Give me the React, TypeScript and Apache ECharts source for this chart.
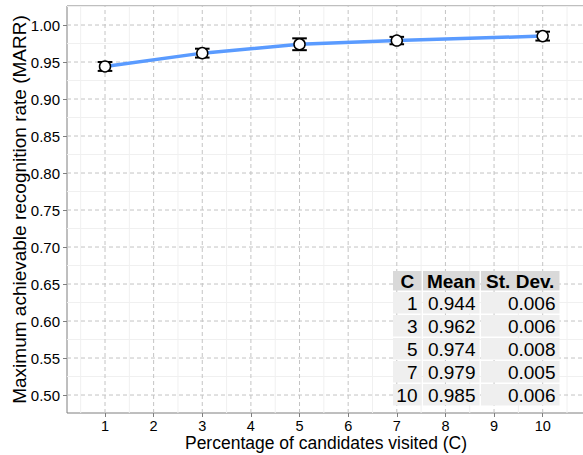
import React, { useEffect, useRef } from "react";
import * as echarts from "echarts";

const cValues = [1, 3, 5, 7, 10];
const meanValues = [0.944, 0.962, 0.974, 0.979, 0.985];
const sdValues = [0.006, 0.006, 0.008, 0.005, 0.006];
const tableHeader = ["C", "Mean", "St. Dev."];
const tableC = ["1", "3", "5", "7", "10"];
const tableMean = ["0.944", "0.962", "0.974", "0.979", "0.985"];
const tableSd = ["0.006", "0.006", "0.008", "0.005", "0.006"];
const xTicks = [1, 2, 3, 4, 5, 6, 7, 8, 9, 10];
const xMinor = [0.5, 1.5, 2.5, 3.5, 4.5, 5.5, 6.5, 7.5, 8.5, 9.5, 10.5];
const yTicks = [0.5, 0.55, 0.6, 0.65, 0.7, 0.75, 0.8, 0.85, 0.9, 0.95, 1.0];
const yMinor = [0.525, 0.575, 0.625, 0.675, 0.725, 0.775, 0.825, 0.875, 0.925, 0.975, 1.025];

const FONT = "'Liberation Sans', Arial, Helvetica, sans-serif";
const X_MIN = 0.2186;
const X_MAX = 10.87;
const Y_MIN = 0.4757;
const Y_MAX = 1.0257;

export default function App() {
  const ref = useRef<HTMLDivElement>(null);
  useEffect(() => {
    if (!ref.current) return;
    const chart = echarts.init(ref.current, undefined, { renderer: "svg" });

    const gridLineSeries = (
      values: number[],
      vertical: boolean,
      style: any,
      z: number
    ) => ({
      type: "custom",
      silent: true,
      z,
      data: values.map((v) => (vertical ? [v, 0.75] : [5, v])),
      renderItem: (params: any, api: any) => {
        const v = vertical ? api.value(0) : api.value(1);
        const p1 = vertical ? api.coord([v, Y_MIN]) : api.coord([X_MIN, v]);
        const p2 = vertical ? api.coord([v, Y_MAX]) : api.coord([X_MAX, v]);
        return {
          type: "line",
          shape: { x1: p1[0], y1: p1[1], x2: p2[0], y2: p2[1] },
          style: style,
        };
      },
    });

    const minorStyle = { stroke: "#f0f0f0", lineWidth: 1 };
    const majorStyle = { stroke: "#c4c4c4", lineWidth: 1, lineDash: [4, 3] };

    // table graphics
    const tblLeft = 393;
    const colW = [30, 58, 80];
    const headerTop = 271;
    const headerH = 21;
    const rowH = 23;
    const gap = 1.5;
    const graphics: any[] = [];
    let cx = tblLeft;
    colW.forEach((w, ci) => {
      graphics.push({
        type: "rect",
        shape: { x: cx, y: headerTop, width: w - gap, height: headerH - gap },
        style: { fill: "#d9d9d9" },
        z: 100,
      });
      graphics.push({
        type: "text",
        x: cx + (w - gap) / 2,
        y: headerTop + (headerH - gap) / 2 + 1,
        style: {
          text: tableHeader[ci],
          font: `bold 19px ${FONT}`,
          fill: "#000",
          align: "center",
          verticalAlign: "middle",
        },
        z: 101,
      });
      const colData = ci === 0 ? tableC : ci === 1 ? tableMean : tableSd;
      colData.forEach((txt, ri) => {
        const top = headerTop + headerH + ri * rowH;
        graphics.push({
          type: "rect",
          shape: { x: cx, y: top, width: w - gap, height: rowH - gap },
          style: { fill: "#efefef" },
          z: 100,
        });
        graphics.push({
          type: "text",
          x: cx + w - gap - 4,
          y: top + (rowH - gap) / 2 + 1,
          style: {
            text: txt,
            font: `19px ${FONT}`,
            fill: "#000",
            align: "right",
            verticalAlign: "middle",
          },
          z: 101,
        });
      });
      cx += w;
    });

    chart.setOption({
      animation: false,
      textStyle: { fontFamily: FONT },
      grid: {
        left: 67,
        right: -2,
        top: 6,
        bottom: 42,
        containLabel: false,
        outerBoundsMode: "none",
        show: true,
        borderColor: "#7f7f7f",
        borderWidth: 1,
        backgroundColor: "#ffffff",
      },
      xAxis: {
        type: "value",
        min: X_MIN,
        max: X_MAX,
        name: "Percentage of candidates visited (C)",
        nameLocation: "middle",
        nameGap: 21,
        nameMoveOverlap: false,
        nameTextStyle: { fontSize: 17.5, color: "#000", fontFamily: FONT },
        axisLine: { show: false },
        splitLine: { show: false },
        axisTick: {
          show: true,
          length: 4,
          customValues: xTicks,
          lineStyle: { color: "#7f7f7f" },
        },
        axisLabel: {
          customValues: xTicks,
          fontSize: 14.5,
          color: "#000",
          margin: 5,
          fontFamily: FONT,
        },
      },
      yAxis: {
        type: "value",
        min: Y_MIN,
        max: Y_MAX,
        name: "Maximum achievable recognition rate (MARR)",
        nameLocation: "middle",
        nameGap: 38,
        nameMoveOverlap: false,
        nameTextStyle: { fontSize: 19, color: "#000", fontFamily: FONT },
        axisLine: { show: false },
        splitLine: { show: false },
        axisTick: {
          show: true,
          length: 4,
          customValues: yTicks,
          lineStyle: { color: "#7f7f7f" },
        },
        axisLabel: {
          customValues: yTicks,
          fontSize: 15,
          color: "#000",
          margin: 7,
          fontFamily: FONT,
          formatter: (v: number) => v.toFixed(2),
        },
      },
      graphic: graphics,
      series: [
        gridLineSeries(xMinor, true, minorStyle, 1),
        gridLineSeries(yMinor, false, minorStyle, 1),
        gridLineSeries(xTicks, true, majorStyle, 1),
        gridLineSeries(yTicks, false, majorStyle, 1),
        {
          type: "line",
          z: 3,
          data: cValues.map((c, i) => [c, meanValues[i]]),
          showSymbol: false,
          symbol: "none",
          lineStyle: { color: "#5a9bff", width: 3.5 },
          silent: true,
        },
        {
          type: "custom",
          z: 4,
          silent: true,
          data: cValues.map((c, i) => [c, meanValues[i], sdValues[i]]),
          renderItem: (params: any, api: any) => {
            const x = api.value(0);
            const m = api.value(1);
            const s = api.value(2);
            const lo = api.coord([x, m - s]);
            const hi = api.coord([x, m + s]);
            const capL = api.coord([x - 0.15, m])[0];
            const capR = api.coord([x + 0.15, m])[0];
            const st = { stroke: "#000", lineWidth: 2 };
            return {
              type: "group",
              children: [
                { type: "line", shape: { x1: lo[0], y1: lo[1], x2: hi[0], y2: hi[1] }, style: st },
                { type: "line", shape: { x1: capL, y1: lo[1], x2: capR, y2: lo[1] }, style: st },
                { type: "line", shape: { x1: capL, y1: hi[1], x2: capR, y2: hi[1] }, style: st },
              ],
            };
          },
        },
        {
          type: "scatter",
          z: 5,
          silent: true,
          data: cValues.map((c, i) => [c, meanValues[i]]),
          symbol: "circle",
          symbolSize: 11,
          itemStyle: { color: "#ffffff", borderColor: "#000", borderWidth: 1.5, opacity: 1 },
        },
      ],
    });
    return () => chart.dispose();
  }, []);
  return (
    <div
      ref={ref}
      style={{ position: "fixed", left: 0, top: 0, width: 583, height: 455, background: "#fff" }}
    />
  );
}
